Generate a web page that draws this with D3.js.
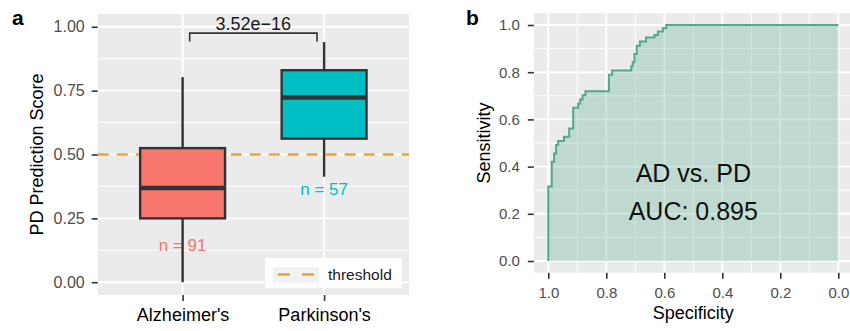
<!DOCTYPE html>
<html lang="en">
  <head>
    <meta charset="UTF-8" />
    <title>AD vs PD</title>
    <script src="https://cdn.jsdelivr.net/npm/d3@7"></script>
    <style>
      html,
      body {
        margin: 0;
        padding: 0;
        background: #fff;
      }
      svg {
        display: block;
        font-family: 'Liberation Sans', Arial, Helvetica, sans-serif;
      }
    </style>
  </head>
  <body>
    <svg width="850" height="331"></svg>
    <script>
      // panel a: box plot
      const groups = ["Alzheimer's", "Parkinson's"];
      const groupN = [91, 57];
      const whiskerLow = [0.0, 0.413];
      const boxQ1 = [0.25, 0.562];
      const boxMedian = [0.369, 0.723];
      const boxQ3 = [0.525, 0.83];
      const whiskerHigh = [0.803, 0.94];
      const groupColors = ['#F8766D', '#00BFC4'];
      const scoreTicks = [0, 0.25, 0.5, 0.75, 1];
      const threshold = 0.5;
      const pLabel = '3.52e\u221216';

      // panel b: ROC curve (specificity, sensitivity steps)
      const rocSpecificity = [1.0, 1.0, 0.988, 0.98, 0.973, 0.966, 0.946, 0.928, 0.914, 0.897, 0.89, 0.882, 0.872, 0.791, 0.78, 0.714, 0.709, 0.703, 0.695, 0.684, 0.663, 0.634, 0.622, 0.605, 0.593, 0.0];
      const rocSensitivity = [0.0, 0.316, 0.421, 0.456, 0.491, 0.509, 0.526, 0.561, 0.649, 0.667, 0.684, 0.702, 0.719, 0.789, 0.807, 0.825, 0.842, 0.877, 0.912, 0.93, 0.947, 0.958, 0.972, 0.986, 1.0, 1.0];
      const rocTicks = [0, 0.2, 0.4, 0.6, 0.8, 1];
      const aucLines = ['AD vs. PD', 'AUC: 0.895'];

      const svg = d3.select('svg');
      const panelBg = '#EBEBEB';
      const tickColor = '#333333';
      const labelColor = '#4D4D4D';

      // ---------- panel a ----------
      const aLeft = 97.7, aRight = 409, aTop = 14, aBottom = 295;
      const yA = d3.scaleLinear().domain([-0.05, 1.05]).range([aBottom, aTop]);
      const xA = d3.scalePoint().domain(groups).range([aLeft, aRight]).padding(0.6);
      const stepA = xA.step();
      const boxW = stepA * 0.6;

      const gA = svg.append('g');
      gA.append('rect')
        .attr('x', aLeft).attr('y', aTop)
        .attr('width', aRight - aLeft).attr('height', aBottom - aTop)
        .attr('fill', panelBg);

      gA.selectAll('line.minor')
        .data([0.125, 0.375, 0.625, 0.875])
        .enter().append('line')
        .attr('x1', aLeft).attr('x2', aRight)
        .attr('y1', d => yA(d)).attr('y2', d => yA(d))
        .attr('stroke', '#fff').attr('stroke-width', 1);
      gA.selectAll('line.majorY')
        .data(scoreTicks)
        .enter().append('line')
        .attr('x1', aLeft).attr('x2', aRight)
        .attr('y1', d => yA(d)).attr('y2', d => yA(d))
        .attr('stroke', '#fff').attr('stroke-width', 1.9);
      gA.selectAll('line.majorX')
        .data(groups)
        .enter().append('line')
        .attr('x1', d => xA(d)).attr('x2', d => xA(d))
        .attr('y1', aTop).attr('y2', aBottom)
        .attr('stroke', '#fff').attr('stroke-width', 1.9);

      // threshold
      gA.append('line')
        .attr('x1', aLeft).attr('x2', aRight)
        .attr('y1', yA(threshold)).attr('y2', yA(threshold))
        .attr('stroke', '#E6A835').attr('stroke-width', 2.4)
        .attr('stroke-dasharray', '11,8');

      // n labels (drawn under whiskers)
      const nLabelAt = [0.145, 0.365];
      gA.selectAll('text.n')
        .data(groups)
        .enter().append('text')
        .attr('x', d => xA(d))
        .attr('y', (d, i) => yA(nLabelAt[i]))
        .attr('dy', '0.35em')
        .attr('text-anchor', 'middle')
        .attr('font-size', 17)
        .attr('fill', (d, i) => groupColors[i])
        .text((d, i) => 'n = ' + groupN[i]);

      groups.forEach(function(g, i) {
        const cx = xA(g);
        gA.append('line')
          .attr('x1', cx).attr('x2', cx)
          .attr('y1', yA(whiskerLow[i])).attr('y2', yA(boxQ1[i]))
          .attr('stroke', tickColor).attr('stroke-width', 2.4);
        gA.append('line')
          .attr('x1', cx).attr('x2', cx)
          .attr('y1', yA(boxQ3[i])).attr('y2', yA(whiskerHigh[i]))
          .attr('stroke', tickColor).attr('stroke-width', 2.4);
        gA.append('rect')
          .attr('x', cx - boxW / 2).attr('width', boxW)
          .attr('y', yA(boxQ3[i])).attr('height', yA(boxQ1[i]) - yA(boxQ3[i]))
          .attr('fill', groupColors[i])
          .attr('stroke', tickColor).attr('stroke-width', 2.4);
        gA.append('line')
          .attr('x1', cx - boxW / 2).attr('x2', cx + boxW / 2)
          .attr('y1', yA(boxMedian[i])).attr('y2', yA(boxMedian[i]))
          .attr('stroke', tickColor).attr('stroke-width', 4.6);
      });

      // significance bracket
      const bx1 = xA(groups[0]) + stepA * 0.05;
      const bx2 = xA(groups[1]) - stepA * 0.05;
      gA.append('path')
        .attr('d', 'M' + bx1 + ',' + yA(0.942) + 'V' + yA(0.975) + 'H' + bx2 + 'V' + yA(0.942))
        .attr('fill', 'none')
        .attr('stroke', tickColor).attr('stroke-width', 1.6);
      gA.append('text')
        .attr('x', (bx1 + bx2) / 2)
        .attr('y', yA(0.975) - 3)
        .attr('text-anchor', 'middle')
        .attr('font-size', 18)
        .attr('fill', '#1a1a1a')
        .text(pLabel);

      // legend
      gA.append('rect')
        .attr('x', 265).attr('y', 258).attr('width', 137).attr('height', 30)
        .attr('fill', '#fff');
      gA.append('rect')
        .attr('x', 273).attr('y', 267).attr('width', 46).attr('height', 16)
        .attr('fill', '#F2F2F2');
      gA.append('line')
        .attr('x1', 278).attr('x2', 314).attr('y1', 274.5).attr('y2', 274.5)
        .attr('stroke', '#E6A835').attr('stroke-width', 2.4)
        .attr('stroke-dasharray', '12,12');
      gA.append('text')
        .attr('x', 328).attr('y', 280)
        .attr('font-size', 15.5)
        .attr('fill', '#1a1a1a')
        .text('threshold');

      // axes a
      const yAxisA = gA.append('g')
        .attr('transform', 'translate(' + aLeft + ',0)')
        .call(d3.axisLeft(yA).tickValues(scoreTicks).tickFormat(d3.format('.2f')).tickSize(6).tickPadding(7));
      const xAxisA = gA.append('g')
        .attr('transform', 'translate(0,' + aBottom + ')')
        .call(d3.axisBottom(xA).tickSize(6));

      yAxisA.selectAll('text').attr('font-size', 16).attr('fill', labelColor)
        .attr('font-family', null);
      xAxisA.selectAll('text').attr('font-size', 18).attr('fill', '#000')
        .attr('font-family', null).attr('dy', null).attr('y', 26);

      gA.append('text')
        .attr('transform', 'translate(43,' + (aTop + aBottom) / 2 + ') rotate(-90)')
        .attr('text-anchor', 'middle')
        .attr('font-size', 18)
        .text('PD Prediction Score');

      // ---------- panel b ----------
      const bLeft = 533.8, bRight = 852.8, bTop = 13.2, bBottom = 272.8;
      const xB = d3.scaleLinear().domain([1.05, -0.05]).range([bLeft, bRight]);
      const yB = d3.scaleLinear().domain([-0.05, 1.05]).range([bBottom, bTop]);

      const gB = svg.append('g');
      gB.append('rect')
        .attr('x', bLeft).attr('y', bTop)
        .attr('width', bRight - bLeft).attr('height', bBottom - bTop)
        .attr('fill', panelBg);

      const minorB = [0.1, 0.3, 0.5, 0.7, 0.9];
      gB.selectAll('line.minorX')
        .data(minorB)
        .enter().append('line')
        .attr('x1', d => xB(d)).attr('x2', d => xB(d))
        .attr('y1', bTop).attr('y2', bBottom)
        .attr('stroke', '#fff').attr('stroke-width', 1);
      gB.selectAll('line.minorY')
        .data(minorB)
        .enter().append('line')
        .attr('x1', bLeft).attr('x2', bRight)
        .attr('y1', d => yB(d)).attr('y2', d => yB(d))
        .attr('stroke', '#fff').attr('stroke-width', 1);
      gB.selectAll('line.majorX')
        .data(rocTicks)
        .enter().append('line')
        .attr('x1', d => xB(d)).attr('x2', d => xB(d))
        .attr('y1', bTop).attr('y2', bBottom)
        .attr('stroke', '#fff').attr('stroke-width', 1.9);
      gB.selectAll('line.majorY')
        .data(rocTicks)
        .enter().append('line')
        .attr('x1', bLeft).attr('x2', bRight)
        .attr('y1', d => yB(d)).attr('y2', d => yB(d))
        .attr('stroke', '#fff').attr('stroke-width', 1.9);

      const rocData = rocSpecificity.map((s, i) => ({ spec: s, sens: rocSensitivity[i] }));

      const area = d3.area()
        .curve(d3.curveStepAfter)
        .x(d => xB(d.spec))
        .y0(yB(0))
        .y1(d => yB(d.sens));
      const line = d3.line()
        .curve(d3.curveStepAfter)
        .x(d => xB(d.spec))
        .y(d => yB(d.sens));

      gB.append('path')
        .datum(rocData)
        .attr('d', area)
        .attr('fill', '#5AAE96')
        .attr('fill-opacity', 0.3);
      gB.append('path')
        .datum(rocData)
        .attr('d', line)
        .attr('fill', 'none')
        .attr('stroke', '#52A88A')
        .attr('stroke-width', 2);

      gB.selectAll('text.auc')
        .data(aucLines)
        .enter().append('text')
        .attr('x', xB(0.5))
        .attr('y', (d, i) => 182 + i * 38)
        .attr('text-anchor', 'middle')
        .attr('font-size', 25)
        .attr('fill', '#111')
        .text(d => d);

      const xAxisB = gB.append('g')
        .attr('transform', 'translate(0,' + bBottom + ')')
        .call(d3.axisBottom(xB).tickValues(rocTicks).tickFormat(d3.format('.1f')).tickSize(6));
      const yAxisB = gB.append('g')
        .attr('transform', 'translate(' + bLeft + ',0)')
        .call(d3.axisLeft(yB).tickValues(rocTicks).tickFormat(d3.format('.1f')).tickSize(6).tickPadding(8));

      xAxisB.selectAll('text').attr('font-size', 15).attr('fill', labelColor)
        .attr('font-family', null).attr('dy', null).attr('y', 25);
      yAxisB.selectAll('text').attr('font-size', 15).attr('fill', labelColor)
        .attr('font-family', null);

      gB.append('text')
        .attr('x', (bLeft + bRight) / 2)
        .attr('y', 319)
        .attr('text-anchor', 'middle')
        .attr('font-size', 18)
        .text('Specificity');
      gB.append('text')
        .attr('transform', 'translate(489.5,' + (bTop + bBottom) / 2 + ') rotate(-90)')
        .attr('text-anchor', 'middle')
        .attr('font-size', 18)
        .text('Sensitivity');

      // shared axis styling
      d3.selectAll('path.domain').remove();
      d3.selectAll('.tick line')
        .attr('stroke', tickColor)
        .attr('stroke-width', 1.6);

      // panel letters
      svg.append('text')
        .attr('x', 12).attr('y', 25)
        .attr('font-size', 21).attr('font-weight', 'bold')
        .text('a');
      svg.append('text')
        .attr('x', 466).attr('y', 25)
        .attr('font-size', 21).attr('font-weight', 'bold')
        .text('b');
    </script>
  </body>
</html>
